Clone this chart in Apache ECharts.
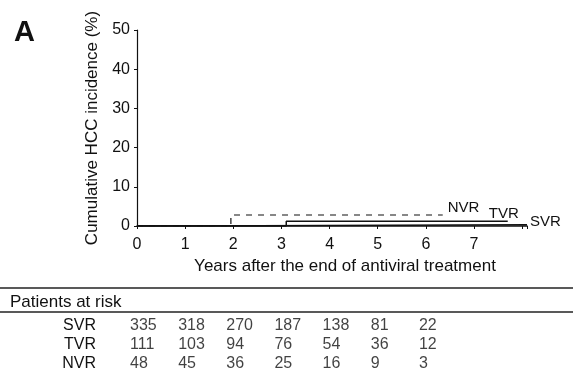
<!DOCTYPE html>
<html>
<head>
<meta charset="utf-8">
<script src="https://cdn.jsdelivr.net/npm/echarts@6/dist/echarts.min.js"></script>
<style>
html, body { margin: 0; padding: 0; background: #fff; }
#main { width: 573px; height: 373px; }
</style>
</head>
<body>
<div id="main"></div>
<script>
// 曲线数据 [年, 累计发病率%]
var svrCurve = [[0, 0], [1.1, 0.3], [8.1, 0.3]];
var tvrCurve = [[0, 0], [3.1, 1.2], [7.7, 1.2]];
var nvrCurve = [[0, 0], [1.95, 2.8], [6.35, 2.8]];
// 风险人数表
var riskYears = [0, 1, 2, 3, 4, 5, 6];
var riskGroups = ['SVR', 'TVR', 'NVR'];
var svrRisk = [335, 318, 270, 187, 138, 81, 22];
var tvrRisk = [111, 103, 94, 76, 54, 36, 12];
var nvrRisk = [48, 45, 36, 25, 16, 9, 3];

var font = 'Liberation Sans, Arial, sans-serif';
var riskData = [];
[svrRisk, tvrRisk, nvrRisk].forEach(function (row, r) {
    row.forEach(function (v, i) {
        riskData.push([riskYears[i], r, v]);
    });
});

var myChart = echarts.init(document.getElementById('main'));
var option = {
    animation: false,
    textStyle: { fontFamily: font, color: '#111' },
    title: {
        text: 'A', left: 9, top: 13,
        textStyle: { fontSize: 29, fontWeight: 'bold', color: '#111', fontFamily: font }
    },
    grid: [
        { left: 137, top: 30, width: 390, height: 196 },
        { left: 137, top: 316, width: 390, height: 61.5 }
    ],
    xAxis: [
        {
            gridIndex: 0, type: 'value', min: 0, max: 8.1, interval: 1,
            name: 'Years after the end of antiviral treatment',
            nameLocation: 'middle', nameGap: 31,
            nameTextStyle: { fontSize: 17, color: '#111', padding: [0, 0, 0, 26] },
            axisLine: { lineStyle: { color: '#111', width: 1.5 } },
            axisTick: { show: true, length: 3, lineStyle: { color: '#111' } },
            axisLabel: {
                fontSize: 16, color: '#111', margin: 11,
                formatter: function (v) { return v > 7 ? '' : v; }
            },
            splitLine: { show: false }
        },
        {
            gridIndex: 1, type: 'value', min: 0, max: 8.1, show: false
        }
    ],
    yAxis: [
        {
            gridIndex: 0, type: 'value', min: 0, max: 50, interval: 10,
            name: 'Cumulative HCC incidence (%)',
            nameLocation: 'middle', nameGap: 34, nameRotate: 90,
            nameTextStyle: { fontSize: 17, color: '#111' },
            axisLine: { show: true, lineStyle: { color: '#111', width: 1.2 } },
            axisTick: { show: true, length: 3, lineStyle: { color: '#111' } },
            axisLabel: { fontSize: 16, color: '#111', margin: 7 },
            splitLine: { show: false }
        },
        {
            gridIndex: 1, type: 'category', data: riskGroups, inverse: true,
            axisLine: { show: false }, axisTick: { show: false },
            axisLabel: { fontSize: 16, color: '#111', margin: 41, interval: 0, hideOverlap: false }
        }
    ],
    graphic: [
        { type: 'line', shape: { x1: 0, y1: 288, x2: 573, y2: 288 }, style: { stroke: '#222', lineWidth: 1.5 } },
        { type: 'line', shape: { x1: 0, y1: 312, x2: 573, y2: 312 }, style: { stroke: '#222', lineWidth: 1.5 } },
        { type: 'text', left: 10, top: 294, style: { text: 'Patients at risk', font: '17px ' + font, fill: '#111' } }
    ],
    series: [
        {
            name: 'SVR', type: 'line', step: 'end', data: svrCurve,
            xAxisIndex: 0, yAxisIndex: 0, symbol: 'none',
            lineStyle: { color: '#111', width: 1.5 },
            endLabel: { show: true, formatter: '{a}', fontSize: 15, color: '#111', offset: [-5, -3] }
        },
        {
            name: 'TVR', type: 'line', step: 'end', data: tvrCurve,
            xAxisIndex: 0, yAxisIndex: 0, symbol: 'none',
            lineStyle: { color: '#111', width: 1.5 },
            endLabel: { show: true, formatter: '{a}', fontSize: 15, color: '#111', offset: [-27, -7] }
        },
        {
            name: 'NVR', type: 'line', step: 'end', data: nvrCurve,
            xAxisIndex: 0, yAxisIndex: 0, symbol: 'none',
            lineStyle: { color: '#111', width: 1.2, type: [6, 6] },
            endLabel: { show: true, formatter: '{a}', fontSize: 15, color: '#111', offset: [-3, -7] }
        },
        {
            name: 'risk', type: 'scatter', xAxisIndex: 1, yAxisIndex: 1,
            data: riskData, symbolSize: 0,
            label: {
                show: true, position: 'inside', align: 'left', offset: [-7, 0],
                fontSize: 16, color: '#111',
                formatter: function (p) { return p.value[2]; }
            }
        }
    ]
};
myChart.setOption(option);
</script>
</body>
</html>
